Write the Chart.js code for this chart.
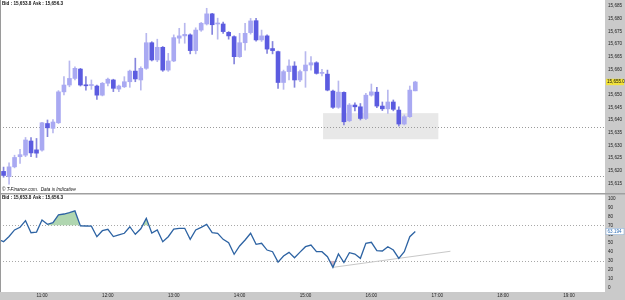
<!DOCTYPE html>
<html><head><meta charset="utf-8">
<script src="https://cdn.jsdelivr.net/npm/chart.js@4.4.0/dist/chart.umd.min.js"></script>
<style>
html,body{margin:0;padding:0;background:#fff;width:625px;height:300px;overflow:hidden}
#top{position:absolute;left:0;top:0;width:625px;height:193px}
#bot{position:absolute;left:0;top:193px;width:625px;height:107px}
</style></head><body>
<div id="top"><canvas id="c1"></canvas></div>
<div id="bot"><canvas id="c2"></canvas></div>
<script>
// ---------------- DATA ----------------
const candleTimes = ['10:25','10:30','10:35','10:40','10:45','10:50','10:55','11:00','11:05','11:10','11:15','11:20','11:25','11:30','11:35','11:40','11:45','11:50','11:55',
'12:00','12:05','12:10','12:15','12:20','12:25','12:30','12:35','12:40','12:45','12:50','12:55','13:00','13:05','13:10','13:15','13:20','13:25','13:30','13:35','13:40','13:45','13:50','13:55',
'14:00','14:05','14:10','14:15','14:20','14:25','14:30','14:35','14:40','14:45','14:50','14:55','15:00','15:05','15:10','15:15','15:20','15:25','15:30','15:35','15:40','15:45','15:50','15:55',
'16:00','16:05','16:10','16:15','16:20','16:25','16:30','16:35','16:40'];
const opens  = [15619.7,15617.6,15621.5,15625.5,15626.1,15631.7,15628.2,15628.1,15638.6,15636.7,15638.9,15651.1,15653.8,15656.4,15660.1,15653.7,15653.6,15653.4,15649.8,
15654.5,15655.8,15652.2,15653.1,15655.1,15659.3,15655.8,15660.4,15670.5,15663.7,15668.7,15659.7,15663.3,15672.3,15673.2,15673.6,15667.4,15675.5,15677.9,15681.9,15677.9,15677.9,15674.6,15672.9,
15665.0,15670.5,15674.5,15679.2,15671.6,15673.2,15668.2,15667.0,15654.8,15659.1,15661.3,15655.8,15659.4,15661.7,15662.6,15658.4,15658.1,15651.4,15645.0,15650.9,15639.7,15645.9,15645.2,15640.6,
15649.8,15651.0,15645.5,15644.4,15647.1,15643.9,15638.4,15641.3,15651.5];
const highs  = [15621.4,15623.1,15626.1,15628.4,15633.1,15633.1,15632.7,15639.1,15640.0,15640.2,15651.6,15657.1,15663.3,15661.0,15660.4,15657.1,15655.8,15653.8,15654.8,
15656.5,15656.1,15653.8,15657.1,15659.7,15664.4,15661.0,15674.2,15670.9,15671.9,15669.0,15666.3,15673.6,15676.2,15678.2,15674.0,15676.4,15678.5,15684.1,15682.1,15680.2,15678.7,15674.9,15673.2,
15674.2,15678.2,15680.1,15680.1,15675.5,15673.6,15671.0,15667.2,15659.7,15663.7,15663.0,15659.7,15667.0,15665.0,15663.0,15660.0,15659.7,15651.8,15655.4,15651.1,15646.5,15646.8,15646.5,15650.5,
15654.2,15652.9,15647.1,15651.8,15647.9,15645.2,15642.0,15653.4,15655.3];
const lows   = [15617.4,15614.7,15621.1,15622.8,15625.5,15625.5,15625.2,15627.7,15633.4,15634.9,15638.6,15649.9,15653.1,15655.8,15653.4,15651.8,15652.1,15648.1,15649.5,
15653.4,15651.2,15651.2,15652.8,15652.9,15655.1,15651.8,15660.0,15663.3,15663.0,15659.2,15659.2,15663.0,15670.3,15670.3,15666.1,15666.1,15675.0,15677.5,15673.8,15671.9,15674.2,15671.9,15662.1,
15664.7,15667.6,15673.9,15671.1,15671.0,15666.3,15666.1,15652.5,15652.1,15655.8,15652.9,15655.1,15652.9,15659.7,15658.1,15657.4,15651.5,15644.6,15644.6,15638.0,15639.3,15643.6,15640.0,15640.1,
15649.4,15644.9,15643.7,15642.6,15643.6,15637.6,15638.0,15641.0,15651.5];
const closes = [15618.1,15621.5,15625.2,15626.3,15632.1,15627.0,15626.9,15638.9,15636.9,15639.2,15651.1,15653.8,15656.4,15660.4,15653.8,15653.5,15653.7,15649.8,15654.5,
15656.1,15652.5,15653.4,15655.1,15659.3,15656.2,15660.4,15670.5,15663.7,15668.7,15659.7,15663.3,15672.5,15673.2,15673.8,15667.4,15675.5,15678.2,15681.9,15677.6,15678.0,15674.9,15673.2,15665.0,
15670.5,15674.2,15679.1,15671.6,15673.2,15668.0,15667.4,15654.8,15659.1,15661.3,15655.8,15659.1,15661.7,15662.6,15658.4,15658.6,15651.8,15645.0,15651.0,15639.3,15645.9,15645.2,15640.6,15649.8,
15651.1,15645.5,15644.4,15647.1,15644.2,15638.4,15641.3,15651.8,15655.0];
const rsiValues = [51.7,57.5,65.0,68.0,75.5,61.8,62.6,76.2,71.4,73.2,82.0,83.0,84.5,86.5,69.5,69.4,69.3,57.3,64.1,
65.7,57.5,59.5,61.2,68.6,60.0,66.3,78.1,61.5,65.0,51.7,57.3,66.0,66.8,66.8,54.3,64.9,67.9,71.3,61.9,61.2,54.3,50.5,37.4,
46.8,53.6,61.2,48.7,49.8,42.2,40.3,28.5,35.4,39.6,33.5,39.8,46.0,47.9,40.3,40.3,34.7,22.6,37.7,28.0,39.2,37.7,32.8,49.8,
51.0,41.5,41.1,46.0,42.2,32.8,40.3,57.3,63.194];
const rsiLead = ['10:20', 54.3];
const priceTicks = [15615,15620,15625,15630,15635,15640,15645,15650,15655,15660,15665,15670,15675,15680,15685];
const rsiTicks = [0,10,20,30,40,50,60,70,80,90,100];
const hourTicks = ['11:00','12:00','13:00','14:00','15:00','16:00','17:00','18:00','19:00'];
const supportLevels = [15637.3, 15618.0];
const zoneTimes = ['15:16','17:01'];
const zonePrices = [15632.4, 15642.7];
const rsiLevels = [70, 30];
const rsiTrend = [['15:25', 22.6], ['17:12', 40.8]];
const overboughtSpans = [['11:05','11:35'], ['12:30','12:40']];
const oversoldSpans = [['15:20','15:30']];
const headerText = 'Bid : 15,653.8 Ask : 15,656.3';
const footerText = '\u00A9 T-Finance.com.  Data is Indicative';

// ---------------- STYLE ----------------
const FONT = '"Liberation Sans", Arial, sans-serif';
const AXIS_BG = '#cacaca';
const UP_BODY = '#a9a9f2', DOWN_BODY = '#5b5be0', UP_WICK = '#b8b8ee', DOWN_WICK = '#8585dd';
const X_MIN = 621.75, X_MAX = 1172.8;

const t = s => { const [h, m] = s.split(':').map(Number); return h * 60 + m; };
const isUp = i => closes[i] >= opens[i];
const fmtPrice = v => v.toLocaleString('en-US');

// ---------------- TOP CHART ----------------
const topDecor = {
  id: 'topDecor',
  beforeDraw(ch) {
    const {ctx, chartArea: a, width, height} = ch;
    ctx.save();
    ctx.fillStyle = '#fff'; ctx.fillRect(0, 0, width, height);
    ctx.fillStyle = AXIS_BG; ctx.fillRect(a.right, 0, width - a.right, height);
    ctx.restore();
  },
  beforeDatasetsDraw(ch) {
    const {ctx, chartArea: a, scales: {x, y}} = ch;
    ctx.save();
    const x0 = x.getPixelForValue(t(zoneTimes[0])), x1 = x.getPixelForValue(t(zoneTimes[1]));
    const y0 = y.getPixelForValue(zonePrices[1]), y1 = y.getPixelForValue(zonePrices[0]);
    ctx.fillStyle = '#e8e8e8'; ctx.fillRect(x0, y0, x1 - x0, y1 - y0);
    ctx.strokeStyle = '#9a9a9a'; ctx.lineWidth = 1; ctx.setLineDash([1, 2]);
    supportLevels.forEach(v => {
      const py = Math.round(y.getPixelForValue(v)) + 0.5;
      ctx.beginPath(); ctx.moveTo(a.left, py); ctx.lineTo(a.right, py); ctx.stroke();
    });
    ctx.restore();
  },
  afterDraw(ch) {
    const {ctx, chartArea: a, scales: {y}, height} = ch;
    ctx.save();
    ctx.strokeStyle = '#9a9a9a'; ctx.lineWidth = 1;
    ctx.beginPath(); ctx.moveTo(0.5, 0); ctx.lineTo(0.5, height); ctx.stroke();
    ctx.fillStyle = '#111'; ctx.textBaseline = 'middle'; ctx.textAlign = 'left';
    ctx.font = '600 4.6px ' + FONT; ctx.fillText(headerText, 2, 3.5);
    ctx.font = 'italic 4.6px ' + FONT; ctx.fillText(footerText, 2, 189.5);
    const last = closes[closes.length - 1];
    const py = y.getPixelForValue(last);
    ctx.fillStyle = '#f2e23c'; ctx.fillRect(a.right + 1, py - 3.2, 18, 6.4);
    ctx.fillStyle = '#111'; ctx.font = '4.6px ' + FONT;
    ctx.fillText(last.toLocaleString('en-US', {minimumFractionDigits: 1, maximumFractionDigits: 1}), a.right + 2, py);
    ctx.restore();
  }
};

new Chart(document.getElementById('c1'), {
  type: 'bar',
  data: {
    datasets: [
      {
        label: 'body', grouped: false, barThickness: 4, minBarLength: 1, borderWidth: 0,
        data: candleTimes.map((s, i) => ({x: t(s), y: [opens[i], closes[i]]})),
        backgroundColor: candleTimes.map((s, i) => isUp(i) ? UP_BODY : DOWN_BODY)
      },
      {
        label: 'wick', grouped: false, barThickness: 1, borderWidth: 0,
        data: candleTimes.map((s, i) => ({x: t(s), y: [lows[i], highs[i]]})),
        backgroundColor: candleTimes.map((s, i) => isUp(i) ? UP_WICK : DOWN_WICK)
      }
    ]
  },
  options: {
    responsive: true, maintainAspectRatio: false, animation: false, devicePixelRatio: 1,
    layout: {padding: 0},
    plugins: {legend: {display: false}, tooltip: {enabled: false}},
    scales: {
      x: {type: 'linear', min: X_MIN, max: X_MAX, offset: false, display: false},
      y: {
        type: 'linear', position: 'right', min: 15611.17, max: 15687.37,
        grid: {display: false, drawTicks: false}, border: {display: false},
        afterBuildTicks: s => { s.ticks = priceTicks.map(v => ({value: v})); },
        afterFit: s => { s.width = 20; s.paddingTop = 0; s.paddingBottom = 0; },
        ticks: {padding: 3, color: '#222', font: {size: 4.6, family: FONT}, callback: v => fmtPrice(v)}
      }
    }
  },
  plugins: [topDecor]
});

// ---------------- BOTTOM CHART ----------------
const botDecor = {
  id: 'botDecor',
  beforeDraw(ch) {
    const {ctx, chartArea: a, width, height} = ch;
    ctx.save();
    ctx.fillStyle = '#fff'; ctx.fillRect(0, 0, width, height);
    ctx.fillStyle = AXIS_BG;
    ctx.fillRect(a.right, 0, width - a.right, height);
    ctx.fillRect(0, a.bottom, width, height - a.bottom);
    ctx.restore();
  },
  beforeDatasetsDraw(ch) {
    const {ctx, chartArea: a, scales: {y}} = ch;
    ctx.save();
    ctx.strokeStyle = '#a8a8a8'; ctx.lineWidth = 1; ctx.setLineDash([1, 2]);
    rsiLevels.forEach(v => {
      const py = Math.round(y.getPixelForValue(v)) + 0.5;
      ctx.beginPath(); ctx.moveTo(a.left, py); ctx.lineTo(a.right, py); ctx.stroke();
    });
    ctx.restore();
  },
  afterDraw(ch) {
    const {ctx, chartArea: a, scales: {y}, width} = ch;
    ctx.save();
    ctx.strokeStyle = '#a0a0a0'; ctx.lineWidth = 1.6;
    ctx.beginPath(); ctx.moveTo(0, 0.8); ctx.lineTo(width, 0.8); ctx.stroke();
    ctx.lineWidth = 1; ctx.strokeStyle = '#9a9a9a';
    ctx.beginPath(); ctx.moveTo(0.5, 0); ctx.lineTo(0.5, a.bottom); ctx.stroke();
    ctx.fillStyle = '#111'; ctx.textBaseline = 'middle'; ctx.textAlign = 'left';
    ctx.font = '600 4.6px ' + FONT; ctx.fillText(headerText, 2, 4.5);
    const last = rsiValues[rsiValues.length - 1];
    const py = y.getPixelForValue(last);
    ctx.fillStyle = '#fff'; ctx.fillRect(a.right + 1, py - 3.2, 18, 6.4);
    ctx.strokeStyle = '#8fb0d6'; ctx.lineWidth = 0.6; ctx.strokeRect(a.right + 1, py - 3.2, 18, 6.4);
    ctx.fillStyle = '#2d6db5'; ctx.font = '4.6px ' + FONT;
    ctx.fillText(last.toFixed(3), a.right + 2.5, py);
    ctx.restore();
  }
};

const rsiPoints = [{x: t(rsiLead[0]), y: rsiLead[1]}].concat(candleTimes.map((s, i) => ({x: t(s), y: rsiValues[i]})));
const spanPoints = sp => rsiPoints.filter(p => p.x >= t(sp[0]) && p.x <= t(sp[1]));
const fillSets = [];
overboughtSpans.forEach(sp => fillSets.push({
  type: 'line', data: spanPoints(sp), borderWidth: 0, pointRadius: 0,
  fill: {target: {value: 70}, above: 'rgba(150,200,150,0.75)', below: 'rgba(0,0,0,0)'}
}));
oversoldSpans.forEach(sp => fillSets.push({
  type: 'line', data: spanPoints(sp), borderWidth: 0, pointRadius: 0,
  fill: {target: {value: 30}, above: 'rgba(0,0,0,0)', below: 'rgba(205,170,185,0.85)'}
}));

new Chart(document.getElementById('c2'), {
  type: 'line',
  data: {
    datasets: [
      {type: 'line', data: rsiPoints, borderColor: '#2d63a3', borderWidth: 1.3, pointRadius: 0, tension: 0, fill: false},
      {type: 'line', data: rsiTrend.map(p => ({x: t(p[0]), y: p[1]})), borderColor: '#c8c8c8', borderWidth: 1, pointRadius: 0, fill: false},
      ...fillSets
    ]
  },
  options: {
    responsive: true, maintainAspectRatio: false, animation: false, devicePixelRatio: 1,
    layout: {padding: 0},
    plugins: {legend: {display: false}, tooltip: {enabled: false}},
    scales: {
      x: {
        type: 'linear', min: X_MIN, max: X_MAX, offset: false, position: 'bottom',
        grid: {display: false, drawTicks: false}, border: {display: false},
        afterBuildTicks: s => { s.ticks = hourTicks.map(h => ({value: t(h)})); },
        afterFit: s => { s.height = 8; s.paddingLeft = 0; s.paddingRight = 0; },
        ticks: {padding: 1.2, autoSkip: false, maxRotation: 0, minRotation: 0, color: '#222',
          font: {size: 4.6, family: FONT}, callback: (v, i) => hourTicks[i]}
      },
      y: {
        type: 'linear', position: 'right', min: -5.32, max: 106.8,
        grid: {display: false, drawTicks: false}, border: {display: false},
        afterBuildTicks: s => { s.ticks = rsiTicks.map(v => ({value: v})); },
        afterFit: s => { s.width = 20; s.paddingTop = 0; s.paddingBottom = 0; },
        ticks: {padding: 3, color: '#222', font: {size: 4.6, family: FONT}}
      }
    }
  },
  plugins: [botDecor]
});
</script></body></html>
